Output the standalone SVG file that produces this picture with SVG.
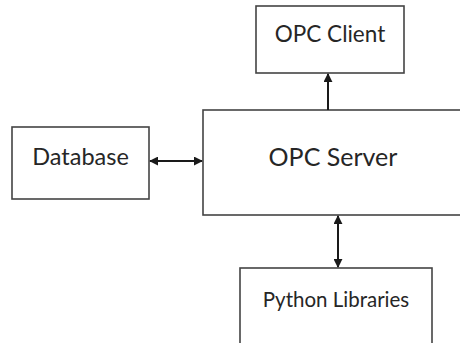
<svg xmlns="http://www.w3.org/2000/svg" width="460" height="343" viewBox="0 0 460 343">
  <style>
    .box { fill: #ffffff; stroke: #444444; stroke-width: 1.6; }
    .label { font-family: Lato, "Liberation Sans", sans-serif; fill: #262626; text-anchor: middle; }
    .link { stroke: #1a1a1a; stroke-width: 2; fill: none; }
  </style>
  <defs>
    <marker id="head" viewBox="0 0 10 10" refX="9" refY="5" markerWidth="4.5" markerHeight="4.5" orient="auto-start-reverse" markerUnits="strokeWidth">
      <path d="M0,0 L10,5 L0,10 Z" fill="#1a1a1a"/>
    </marker>
  </defs>
  <rect width="460" height="343" fill="#ffffff"/>

  <g id="opc-client">
    <rect class="box" x="256" y="6" width="148" height="67"/>
    <text class="label" x="330" y="42" font-size="22.5">OPC Client</text>
  </g>

  <g id="database">
    <rect class="box" x="12" y="127" width="137" height="72"/>
    <text class="label" x="80.5" y="165" font-size="23.5">Database</text>
  </g>

  <g id="opc-server">
    <rect class="box" x="203" y="110" width="262" height="105"/>
    <text class="label" x="333" y="166" font-size="25">OPC Server</text>
  </g>

  <g id="python-libraries">
    <rect class="box" x="240" y="268" width="192" height="80"/>
    <text class="label" x="336" y="307" font-size="20.5">Python Libraries</text>
  </g>

  <g id="connectors">
    <line class="link" x1="328" y1="110" x2="328" y2="74" marker-end="url(#head)"/>
    <line class="link" x1="150" y1="161" x2="202" y2="161" marker-start="url(#head)" marker-end="url(#head)"/>
    <line class="link" x1="338" y1="216" x2="338" y2="267" marker-start="url(#head)" marker-end="url(#head)"/>
  </g>
</svg>
